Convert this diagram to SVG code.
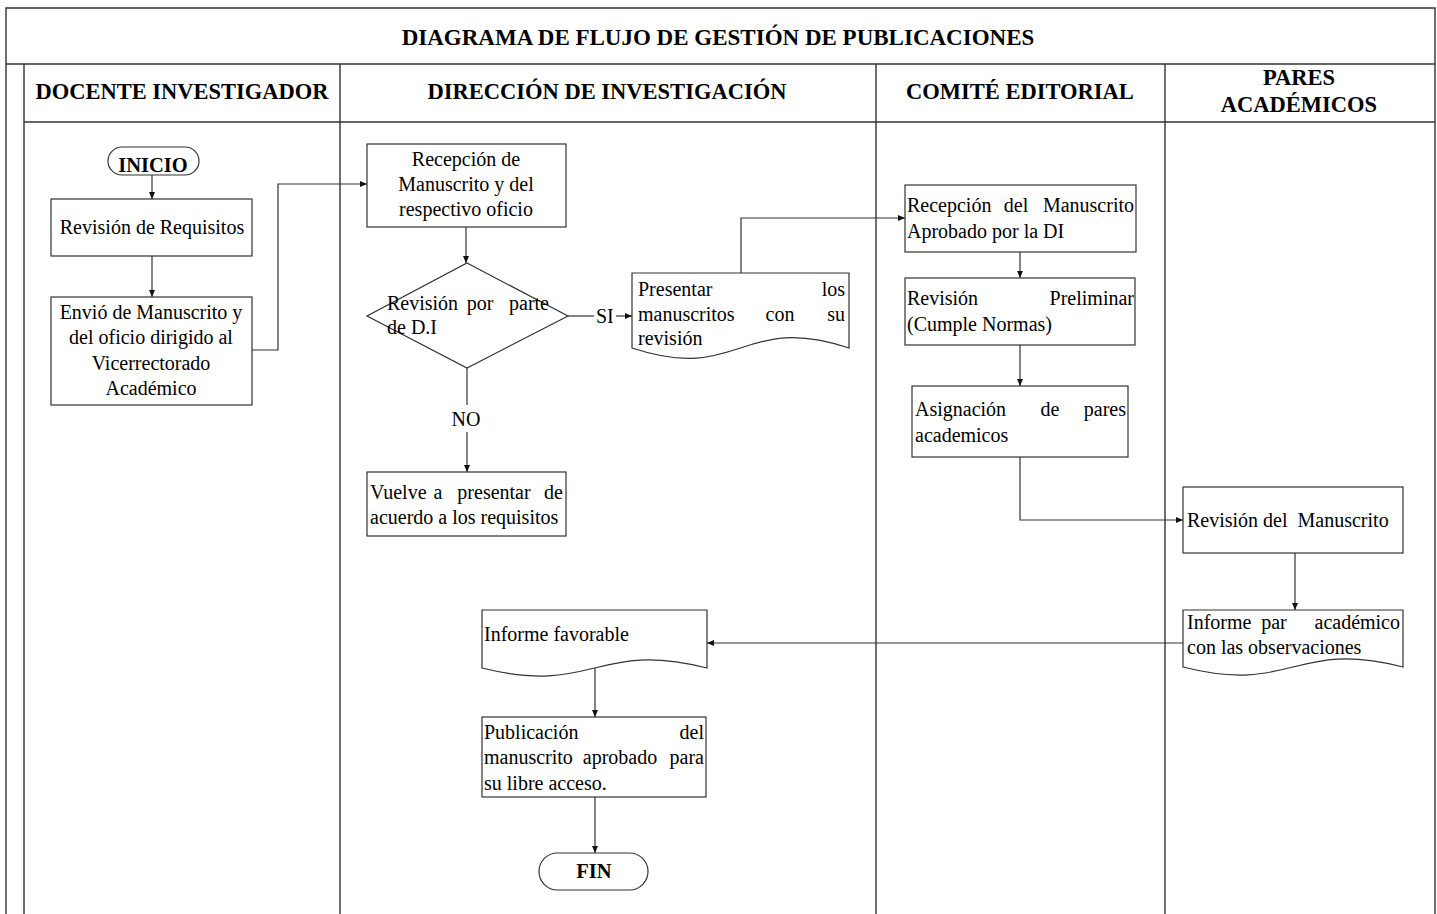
<svg xmlns="http://www.w3.org/2000/svg" width="1437" height="914" viewBox="0 0 1437 914">
  <style>
    .frame { fill: none; stroke: #333; stroke-width: 1.4; }
    .shape { fill: #fff; stroke: #333; stroke-width: 1.2; }
    .conn { fill: none; stroke: #333; stroke-width: 1.2; }
    text { font-family: "Liberation Serif", "Times New Roman", serif; font-size: 20px; fill: #000; }
    .title { font-size: 23px; font-weight: bold; text-anchor: middle; }
    .lane { font-size: 22.5px; font-weight: bold; text-anchor: middle; }
    .term { font-size: 20.5px; font-weight: bold; text-anchor: middle; }
    .c { text-anchor: middle; }
    .e { text-anchor: end; }
  </style>
  <defs>
    <marker id="arrow" markerWidth="8" markerHeight="8" refX="7" refY="4" orient="auto" markerUnits="userSpaceOnUse">
      <path d="M0,1 L7,4 L0,7 Z" fill="#111"/>
    </marker>
  </defs>

  <rect width="1437" height="914" fill="#fff"/>

  <!-- swimlane frame -->
  <g id="frame">
    <path class="frame" d="M6,914 V8 H1435 V914"/>
    <path class="frame" d="M6,64 H1435"/>
    <path class="frame" d="M24,64 V914"/>
    <path class="frame" d="M24,122 H1435"/>
    <path class="frame" d="M340,64 V914"/>
    <path class="frame" d="M876,64 V914"/>
    <path class="frame" d="M1165,64 V914"/>
    <text class="title" x="718" y="45">DIAGRAMA DE FLUJO DE GESTIÓN DE PUBLICACIONES</text>
    <text class="lane" x="182" y="99">DOCENTE INVESTIGADOR</text>
    <text class="lane" x="607" y="99">DIRECCIÓN DE INVESTIGACIÓN</text>
    <text class="lane" x="1020" y="99">COMITÉ EDITORIAL</text>
    <text class="lane" x="1299" y="85">PARES</text>
    <text class="lane" x="1299" y="112">ACADÉMICOS</text>
  </g>

  <!-- connectors -->
  <g id="connectors">
    <path class="conn" d="M152,175 V199" marker-end="url(#arrow)"/>
    <path class="conn" d="M152,256 V297" marker-end="url(#arrow)"/>
    <path class="conn" d="M252,350 H278 V184 H367" marker-end="url(#arrow)"/>
    <path class="conn" d="M466,227 V263" marker-end="url(#arrow)"/>
    <path class="conn" d="M568,316 H594"/>
    <path class="conn" d="M616,316 H632" marker-end="url(#arrow)"/>
    <text x="596" y="323">SI</text>
    <path class="conn" d="M467,368 V405"/>
    <path class="conn" d="M467,432 V472" marker-end="url(#arrow)"/>
    <text class="c" x="466" y="426">NO</text>
    <path class="conn" d="M741,273 V218 H905" marker-end="url(#arrow)"/>
    <path class="conn" d="M1020,252 V278" marker-end="url(#arrow)"/>
    <path class="conn" d="M1020,345 V386" marker-end="url(#arrow)"/>
    <path class="conn" d="M1020,457 V520 H1183" marker-end="url(#arrow)"/>
    <path class="conn" d="M1295,553 V610" marker-end="url(#arrow)"/>
    <path class="conn" d="M1183,643 H707" marker-end="url(#arrow)"/>
    <path class="conn" d="M595,668 V717" marker-end="url(#arrow)"/>
    <path class="conn" d="M595,797 V853" marker-end="url(#arrow)"/>
  </g>

  <!-- Docente Investigador -->
  <g id="inicio">
    <rect class="shape" x="108" y="147" width="91" height="28" rx="14"/>
    <text class="term" x="153" y="172">INICIO</text>
  </g>
  <g id="revision-requisitos">
    <rect class="shape" x="51" y="199" width="201" height="57"/>
    <text class="c" x="152" y="234">Revisión de Requisitos</text>
  </g>
  <g id="envio-manuscrito">
    <rect class="shape" x="51" y="297" width="201" height="108"/>
    <text class="c" x="151" y="319">Envió de Manuscrito y</text>
    <text class="c" x="151" y="344">del oficio dirigido al</text>
    <text class="c" x="151" y="370">Vicerrectorado</text>
    <text class="c" x="151" y="395">Académico</text>
  </g>

  <!-- Dirección de Investigación -->
  <g id="recepcion-manuscrito">
    <rect class="shape" x="367" y="144" width="199" height="83"/>
    <text class="c" x="466" y="166">Recepción de</text>
    <text class="c" x="466" y="191">Manuscrito y del</text>
    <text class="c" x="466" y="216">respectivo oficio</text>
  </g>
  <g id="revision-di">
    <path class="shape" d="M467,263 L568,316 L467,368 L367,316 Z"/>
    <text x="387" y="310">Revisión</text>
    <text class="c" x="480" y="310">por</text>
    <text class="e" x="549" y="310">parte</text>
    <text x="387" y="334">de D.I</text>
  </g>
  <g id="presentar-manuscritos">
    <path class="shape" d="M632,273 H849 V348 C740.5,312 740.5,384 632,348 Z"/>
    <text x="638" y="296">Presentar</text>
    <text class="e" x="845" y="296">los</text>
    <text x="638" y="321">manuscritos</text>
    <text class="c" x="780" y="321">con</text>
    <text class="e" x="845" y="321">su</text>
    <text x="638" y="345">revisión</text>
  </g>
  <g id="vuelve-presentar">
    <rect class="shape" x="367" y="472" width="199" height="64"/>
    <text x="370" y="499">Vuelve</text>
    <text class="c" x="438" y="499">a</text>
    <text class="c" x="494" y="499">presentar</text>
    <text class="e" x="563" y="499">de</text>
    <text x="370" y="524">acuerdo a los requisitos</text>
  </g>
  <g id="informe-favorable">
    <path class="shape" d="M482,610 H707 V668 C594.5,640 594.5,696 482,668 Z"/>
    <text x="484" y="641">Informe favorable</text>
  </g>
  <g id="publicacion">
    <rect class="shape" x="482" y="717" width="224" height="80"/>
    <text x="484" y="739">Publicación</text>
    <text class="e" x="704" y="739">del</text>
    <text x="484" y="764">manuscrito</text>
    <text class="c" x="620" y="764">aprobado</text>
    <text class="e" x="704" y="764">para</text>
    <text x="484" y="790">su libre acceso.</text>
  </g>
  <g id="fin">
    <rect class="shape" x="539" y="853" width="109" height="37" rx="18.5"/>
    <text class="term" x="594" y="878">FIN</text>
  </g>

  <!-- Comité Editorial -->
  <g id="recepcion-aprobado">
    <rect class="shape" x="905" y="185" width="231" height="67"/>
    <text x="907" y="212">Recepción</text>
    <text class="c" x="1016" y="212">del</text>
    <text class="e" x="1134" y="212">Manuscrito</text>
    <text x="907" y="238">Aprobado por la DI</text>
  </g>
  <g id="revision-preliminar">
    <rect class="shape" x="905" y="278" width="230" height="67"/>
    <text x="907" y="305">Revisión</text>
    <text class="e" x="1134" y="305">Preliminar</text>
    <text x="907" y="331">(Cumple Normas)</text>
  </g>
  <g id="asignacion-pares">
    <rect class="shape" x="912" y="386" width="216" height="71"/>
    <text x="915" y="416">Asignación</text>
    <text class="c" x="1050" y="416">de</text>
    <text class="e" x="1126" y="416">pares</text>
    <text x="915" y="442">academicos</text>
  </g>

  <!-- Pares Académicos -->
  <g id="revision-manuscrito">
    <rect class="shape" x="1183" y="487" width="220" height="66"/>
    <text x="1187" y="527" xml:space="preserve">Revisión del  Manuscrito</text>
  </g>
  <g id="informe-par">
    <path class="shape" d="M1183,610 H1403 V667 C1293,639 1293,695 1183,667 Z"/>
    <text x="1187" y="629">Informe</text>
    <text class="c" x="1274" y="629">par</text>
    <text class="e" x="1400" y="629">académico</text>
    <text x="1187" y="654">con las observaciones</text>
  </g>
</svg>
